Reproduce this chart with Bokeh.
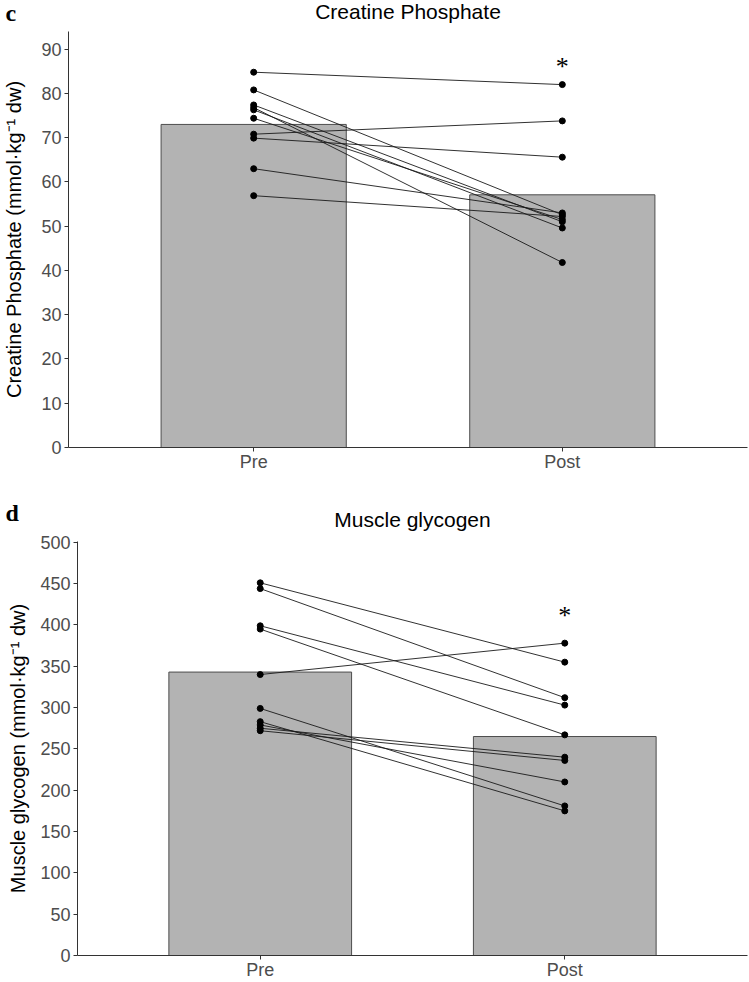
from bokeh.plotting import figure
from bokeh.layouts import column, row
from bokeh.models import FixedTicker, Range1d, Title
from bokeh.core.properties import value
from bokeh.embed import file_html
from bokeh.resources import INLINE

categories = ["Pre", "Post"]

cp_pre = [84.8, 80.8, 77.4, 76.8, 76.3, 74.4, 70.8, 69.9, 63.0, 56.9]
cp_post = [82.0, 52.6, 51.0, 41.8, 49.6, 51.5, 73.8, 65.6, 53.0, 52.2]
cp_mean = [73.0, 57.1]
cp_star = 86.0
cp_ticks = [0, 10, 20, 30, 40, 50, 60, 70, 80, 90]

gly_pre = [451, 444, 399, 395, 340, 299, 283, 279, 275, 272]
gly_post = [355, 312, 303, 267, 378, 181, 175, 210, 240, 236]
gly_mean = [343, 265]
gly_star = 412
gly_ticks = [0, 50, 100, 150, 200, 250, 300, 350, 400, 450, 500]

FONT = "Liberation Sans"


def panel(title, letter, ylabel, pre, post, means, star_y, ticks, ymax,
          height, left, top, label_standoff, spacer_standoff, letter_standoff, title_standoff):
    xpos = [i + 1 for i in range(len(categories))]
    p = figure(width=749, height=height,
               min_border_left=left, min_border_right=2,
               min_border_top=top, min_border_bottom=20,
               x_range=Range1d(0.4, 2.6), y_range=Range1d(0, ymax),
               output_backend="svg", toolbar_location=None)
    p.outline_line_color = None
    p.xgrid.visible = False
    p.ygrid.visible = False
    p.background_fill_color = "white"
    p.border_fill_color = "white"

    p.vbar(x=xpos, top=means, width=0.6, bottom=0,
           fill_color="#B3B3B3", line_color="#4D4D4D", line_width=1)

    xs = [[xpos[0], xpos[1]] for _ in pre]
    ys = [[a, b] for a, b in zip(pre, post)]
    p.multi_line(xs=xs, ys=ys, line_color="#1A1A1A", line_width=0.9)
    p.scatter(x=[xpos[0]] * len(pre), y=pre, size=6, color="black")
    p.scatter(x=[xpos[1]] * len(post), y=post, size=6, color="black")

    p.text(x=[xpos[1]], y=[star_y], text=["*"], text_align="center",
           text_baseline="middle", text_font=value("Liberation Serif"),
           text_font_size="26px", text_color="black")

    for ax in (p.xaxis[0], p.yaxis[0]):
        ax.axis_line_color = "#333333"
        ax.axis_line_width = 1
        ax.major_tick_line_color = "#333333"
        ax.major_tick_out = 4
        ax.major_tick_in = 0
        ax.minor_tick_line_color = None
        ax.major_label_text_color = "#4D4D4D"
        ax.major_label_text_font = FONT
        ax.major_label_text_font_size = "18px"
        ax.major_label_standoff = 3
    p.xaxis.major_label_standoff = 0
    p.xaxis.ticker = FixedTicker(ticks=xpos)
    p.xaxis.major_label_overrides = {x: c for x, c in zip(xpos, categories)}
    p.yaxis.ticker = FixedTicker(ticks=ticks)
    p.yaxis.axis_label = ylabel
    p.yaxis.axis_label_text_font = FONT
    p.yaxis.axis_label_text_font_style = "normal"
    p.yaxis.axis_label_text_font_size = "20px"
    p.yaxis.axis_label_text_color = "black"
    p.yaxis.axis_label_standoff = label_standoff

    # spacer between frame and the heading line
    p.add_layout(Title(text=" ", text_font_size="10px", standoff=spacer_standoff), "above")
    # panel letter
    p.add_layout(Title(text=letter, align="left", offset=-left + 5, standoff=letter_standoff,
                       text_font="Liberation Serif", text_font_style="bold",
                       text_font_size="24px", text_color="black"), "above")
    # main title (outermost)
    p.title.text = title
    p.title.align = "center"
    p.title.text_font = FONT
    p.title.text_font_style = "normal"
    p.title.text_font_size = "21px"
    p.title.text_color = "black"
    p.title.standoff = title_standoff
    return p


pc = panel("Creatine Phosphate", "c", "Creatine Phosphate (mmol·kg⁻¹ dw)",
           cp_pre, cp_post, cp_mean, cp_star, cp_ticks, 94.0,
           474, 68, 31, 13, 8.95, -33.6, -27.2)
pd_ = panel("Muscle glycogen", "d", "Muscle glycogen (mmol·kg⁻¹ dw)",
            gly_pre, gly_post, gly_mean, gly_star, gly_ticks, 501.0,
            508, 77, 67, 8, 25.75, -46, -56.6)

layout = column(row(pc), row(pd_), spacing=0)
open("out.html", "w").write(file_html(layout, INLINE))
